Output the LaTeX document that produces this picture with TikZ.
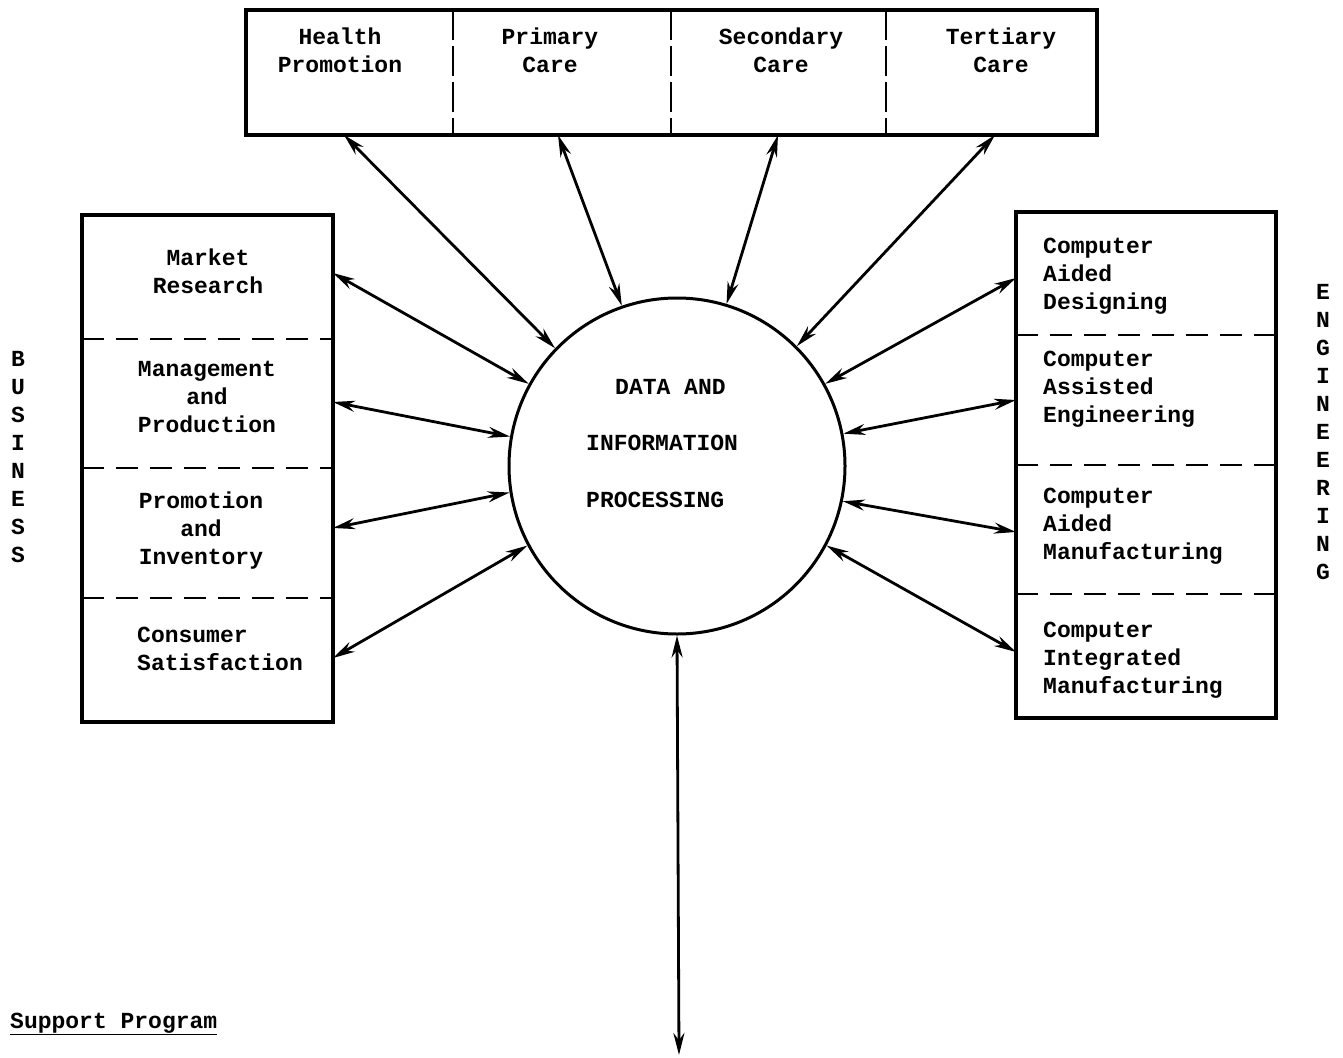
\documentclass[tikz,border=0pt]{standalone}
\usepackage{fontspec}
\setmonofont{Liberation Mono}
\usetikzlibrary{arrows.meta}
\begin{document}
\begin{tikzpicture}[x=1pt,y=-1pt,
  lbl/.style={font=\ttfamily\bfseries\fontsize{23}{28}\selectfont, align=center, inner sep=0pt},
  lbll/.style={lbl, align=left},
  frame/.style={line width=3.2pt},
  hdiv/.style={line width=2.8pt, dash pattern=on 22pt off 12pt},
  vdiv/.style={line width=2.6pt, dash pattern=on 30pt off 6pt},
  link/.style={line width=2.8pt, {Stealth[length=22pt,width=11pt]}-{Stealth[length=22pt,width=11pt]}}]
\path[use as bounding box] (0,0) rectangle (1343,1057);

% top box
\draw[frame] (246,10) rectangle (1097,135);
\draw[vdiv] (453,10) -- (453,135);
\draw[vdiv] (671,10) -- (671,135);
\draw[vdiv] (886,10) -- (886,135);
\node[lbl] (hp) at (340,50) {Health\\Promotion};
\node[lbl] (pc) at (550,50) {Primary\\Care};
\node[lbl] (sc) at (781,50) {Secondary\\Care};
\node[lbl] (tc) at (1001,50) {Tertiary\\Care};
\coordinate (hpA) at (344,135);
\coordinate (pcA) at (558,135);
\coordinate (scA) at (778,135);
\coordinate (tcA) at (995,135);

% left box
\draw[frame] (82,215) rectangle (333,722);
\draw[hdiv] (82,339) -- (333,339);
\draw[hdiv] (82,468) -- (333,468);
\draw[hdiv] (82,598) -- (333,598);
\node[lbl] (mr) at (208,271) {Market\\Research};
\node[lbl] (mp) at (207,397) {Management\\and\\Production};
\node[lbl] (pi) at (201,531) {Promotion\\and\\Inventory};
\node[lbll, anchor=west] (cs) at (137,649) {Consumer\\Satisfaction};
\coordinate (mrA) at (333,273);
\coordinate (mpA) at (333,402);
\coordinate (piA) at (333,528);
\coordinate (csA) at (333,658);
\node[lbl] (bus) at (18,457) {B\\U\\S\\I\\N\\E\\S\\S};

% right box
\draw[frame] (1016,212) rectangle (1276,718);
\draw[hdiv] (1016,335) -- (1276,335);
\draw[hdiv] (1016,465) -- (1276,465);
\draw[hdiv] (1016,594) -- (1276,594);
\node[lbll, anchor=west] (cad) at (1043,276) {Computer\\Aided\\Designing};
\node[lbll, anchor=west] (cae) at (1043,389) {Computer\\Assisted\\Engineering};
\node[lbll, anchor=west] (cam) at (1043,526) {Computer\\Aided\\Manufacturing};
\node[lbll, anchor=west] (cim) at (1043,660) {Computer\\Integrated\\Manufacturing};
\coordinate (cadA) at (1016,278);
\coordinate (caeA) at (1016,400);
\coordinate (camA) at (1016,532);
\coordinate (cimA) at (1016,652);
\node[lbl] (eng) at (1323,432) {E\\N\\G\\I\\N\\E\\E\\R\\I\\N\\G};

% centre circle
\node[draw, circle, line width=3pt, minimum size=336pt, inner sep=0pt] (dip) at (677,466) {};
\node[lbl, anchor=west] (t1) at (615,387) {DATA AND};
\node[lbl, anchor=west] (t2) at (586,443) {INFORMATION};
\node[lbl, anchor=west] (t3) at (586,500) {PROCESSING};

% connectors
\draw[link] (hpA) -- (dip.136.4);
\draw[link] (pcA) -- (dip.109.8);
\draw[link] (scA) -- (dip.73);
\draw[link] (tcA) -- (dip.45.7);
\draw[link] (mrA) -- (dip.151.6);
\draw[link] (mpA) -- (dip.170);
\draw[link] (piA) -- (dip.189.6);
\draw[link] (csA) -- (dip.208.8);
\draw[link] (cadA) -- (dip.29);
\draw[link] (caeA) -- (dip.11.3);
\draw[link] (camA) -- (dip.-12);
\draw[link] (cimA) -- (dip.-28.5);
\coordinate (bot) at (679,1055);
\draw[link] (dip.270) -- (bot);

% support program
\node[lbl, anchor=base west] (sp) at (10,1028) {\underline{Support Program}};
\end{tikzpicture}
\end{document}
